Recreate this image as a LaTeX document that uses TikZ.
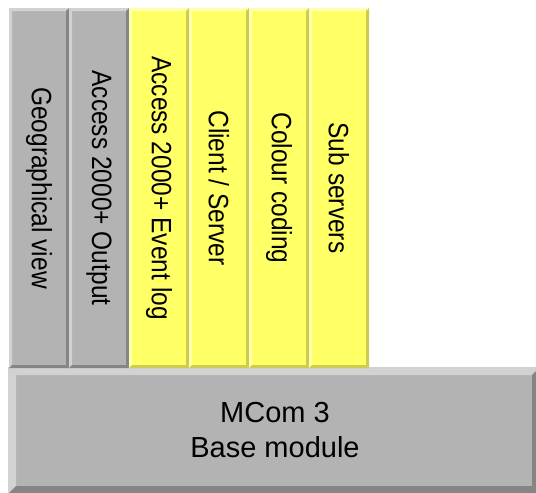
\documentclass[tikz,border=0pt]{standalone}
\usepackage{fontspec}
\setmainfont{Liberation Sans}
\definecolor{gfill}{HTML}{B3B3B3}
\definecolor{glight}{HTML}{D2D2D2}
\definecolor{gdark}{HTML}{858585}
\definecolor{yfill}{HTML}{FFFF66}
\definecolor{ylight}{HTML}{FFFFB0}
\definecolor{ydark}{HTML}{CCCC52}
% bevelled box: x1 y1 x2 y2 bevel colourprefix
\newcommand\bevbox[6]{%
  \fill[#6fill] (#1,#2) rectangle (#3,#4);
  \fill[#6light] (#1,#2) -- (#3,#2) -- ({#3-#5},{#2+#5}) -- ({#1+#5},{#2+#5}) -- cycle;
  \fill[#6light] (#1,#2) -- ({#1+#5},{#2+#5}) -- ({#1+#5},{#4-#5}) -- (#1,#4) -- cycle;
  \fill[#6dark] (#3,#2) -- (#3,#4) -- ({#3-#5},{#4-#5}) -- ({#3-#5},{#2+#5}) -- cycle;
  \fill[#6dark] (#1,#4) -- (#3,#4) -- ({#3-#5},{#4-#5}) -- ({#1+#5},{#4-#5}) -- cycle;
}
\newcommand\cond[1]{\scalebox{0.875}[1]{#1}}
\tikzset{
  coltext/.style={rotate=-90, inner sep=0pt, font=\fontsize{28}{33}\selectfont},
  basetext/.style={inner sep=0pt, align=center, font=\fontsize{29}{35}\selectfont}
}
\begin{document}
\begin{tikzpicture}[x=1pt,y=-1pt]
\useasboundingbox (0,0) rectangle (536,493);
\clip (0,0) rectangle (536,493);
\fill[white] (0,0) rectangle (536,493);
% base
\bevbox{8}{367}{540}{494}{8}{g}
% columns
\bevbox{9}{8}{69}{368}{3}{g}
\bevbox{69}{8}{129}{368}{3}{g}
\bevbox{129}{8}{189}{368}{3}{y}
\bevbox{189}{8}{249}{368}{3}{y}
\bevbox{249}{8}{309}{368}{3}{y}
\bevbox{309}{8}{369}{368}{3}{y}
% texts
\node[coltext] (t1) at (39,188) {\cond{Geographical view}};
\node[coltext] (t2) at (99,188) {\cond{Access 2000+ Output}};
\node[coltext] (t3) at (159,188) {\cond{Access 2000+ Event log}};
\node[coltext] (t4) at (219,188) {\cond{Client / Server}};
\node[coltext] (t5) at (279,188) {\cond{Colour coding}};
\node[coltext] (t6) at (339,188) {\cond{Sub servers}};
\node[basetext] (base) at (275,430.5) {MCom 3\\Base module};
\end{tikzpicture}
\end{document}
